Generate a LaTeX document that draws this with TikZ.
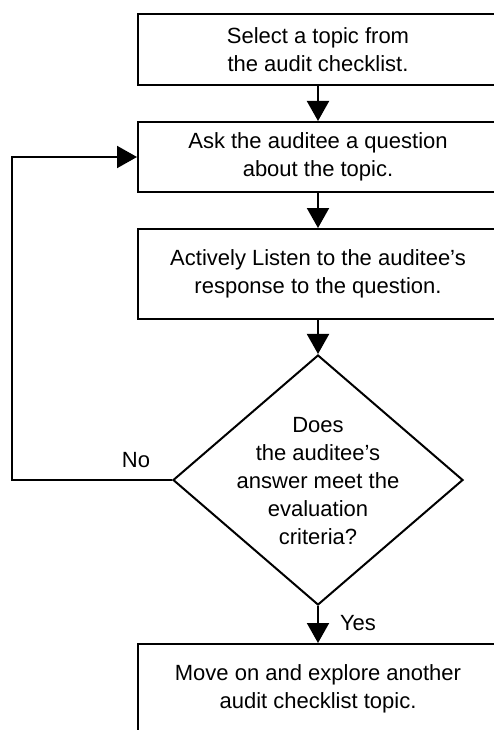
\documentclass[tikz,border=0pt]{standalone}
\usepackage{fontspec}
\setmainfont{Liberation Sans}
\usetikzlibrary{shapes.geometric,arrows.meta}
\begin{document}
\begin{tikzpicture}[x=1pt,y=-1pt,line width=2pt,
  every node/.style={font=\fontsize{22}{28}\selectfont},
  stepbox/.style={draw,line width=2pt,minimum width=360pt,align=center,inner sep=0pt},
  flow/.style={-{Triangle[width=22pt,length=20pt]},line width=2pt}]
\useasboundingbox (0,0) rectangle (494,730);
% audit question loop
\node[stepbox,minimum height=71pt] (sel) at (318,49.5) {Select a topic from\\the audit checklist.};
\node[stepbox,minimum height=70pt] (ask) at (318,157) {Ask the auditee a question\\about the topic.};
\node[stepbox,minimum height=90pt] (lis) at (318,274) {Actively Listen to the auditee's\\response to the question.};
\node[draw,diamond,line width=2pt,minimum width=290pt,minimum height=250pt,inner sep=0pt] (chk) at (318,480) {};
\node[align=center] (chktxt) at (318,481) {Does\\the auditee's\\answer meet the\\evaluation\\criteria?};
\node[stepbox,minimum height=90pt] (mov) at (318,689) {Move on and explore another\\audit checklist topic.};
\foreach \u/\v in {sel/ask,ask/lis,lis/chk,chk/mov}
  \draw[flow] (\u)--(\v);
% back to the question
\coordinate (back) at (12,480);
\draw[flow] (chk.west) -- (back) |- (ask.west);
\node (no) at (136,460) {No};
\node (yes) at (358,623) {Yes};
\end{tikzpicture}
\end{document}
